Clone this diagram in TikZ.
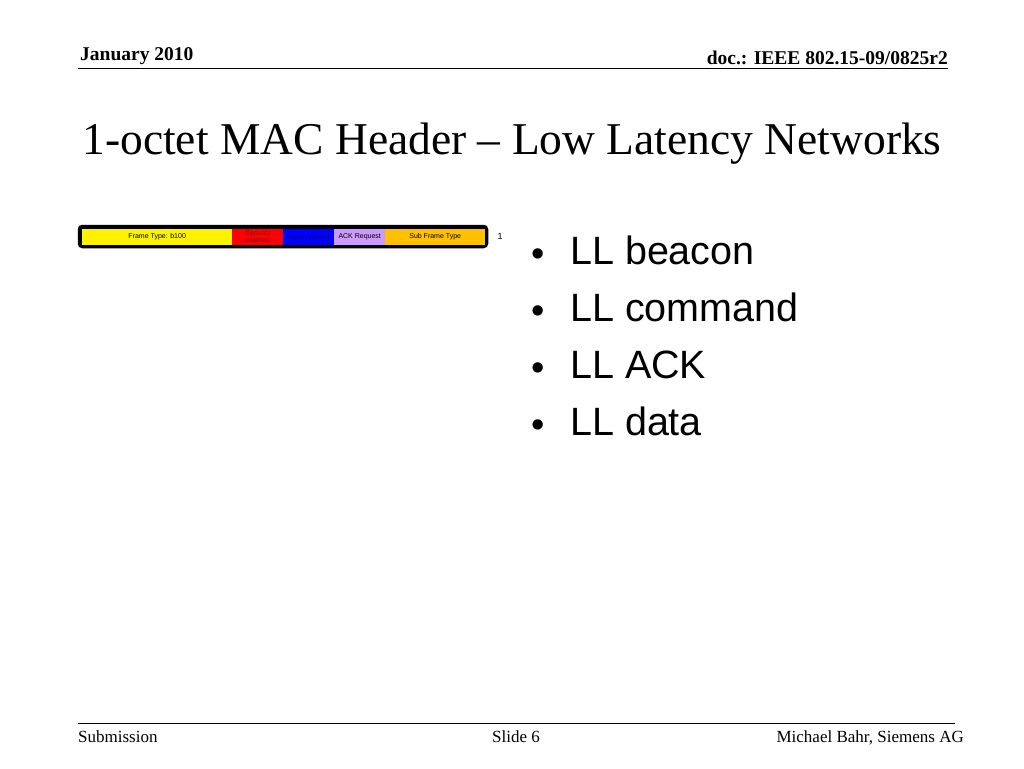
\documentclass[tikz,border=0pt]{standalone}
\usepackage{fontspec}
\setmainfont{Liberation Serif}
\newfontfamily\arialf{Liberation Sans}
\begin{document}
\begin{tikzpicture}[x=1pt,y=-1pt,
  cell/.style={draw=none,inner sep=0pt,minimum height=16pt,anchor=west,font=\arialf\fontsize{7}{7}\selectfont},
  hdr/.style={font=\bfseries\fontsize{19.5}{19.5}\selectfont,inner sep=0pt},
  ftr/.style={font=\fontsize{17}{17}\selectfont,inner sep=0pt},
  bul/.style={font=\arialf\fontsize{39.5}{39.5}\selectfont,inner sep=0pt,anchor=base west},
  dot/.style={font=\arialf\fontsize{38}{38}\selectfont,inner sep=0pt,anchor=base west}]
\useasboundingbox[fill=white] (0,0) rectangle (1024,768);
% header
\node[hdr,anchor=base west] (date) at (80,60) {January 2010};
\node[hdr,anchor=base east] (doc) at (948,64) {doc.: IEEE 802.15-09/0825r2};
\draw[line width=1.5pt] (78,68.5) coordinate (hl) -- (948,68.5) coordinate (hr);
% title
\node[font=\fontsize{45.5}{45.5}\selectfont,inner sep=0pt,anchor=base] (title) at (512,154) {1-octet MAC Header -- Low Latency Networks};
% bar
\draw[line width=3.5pt,rounded corners=3pt,fill=black] (79.5,226.5) rectangle (486.5,246.5);
\node[cell,fill=yellow,minimum width=150pt] (ft) at (82,236.5) {Frame Type: b100};
\node[cell,fill=red,minimum width=51pt,align=center,font=\arialf\fontsize{7}{7.5}\selectfont,text={rgb,255:red,128;green,0;blue,0}] (se) at (232,236.5) {Security\\enabled};
\node[cell,fill=blue,minimum width=51pt,text={rgb,255:red,0;green,0;blue,110}] (fv) at (283,236.5) {Frame Version};
\node[cell,fill={rgb,255:red,204;green,153;blue,255},minimum width=51pt] (ack) at (334,236.5) {ACK Request};
\node[cell,fill={rgb,255:red,255;green,192;blue,0},minimum width=100pt] (sft) at (385,236.5) {Sub Frame Type};
\node[font=\arialf\fontsize{9}{9}\selectfont,inner sep=0pt] (one) at (500,236) {1};
% bullets
\foreach \t/\y [count=\i] in {LL beacon/264, LL command/321, LL ACK/378, LL data/435}{
  \node[dot] (d\i) at (531,\y+2) {\textbullet};
  \node[bul] (b\i) at (570,\y) {\t};
}
% footer
\draw[line width=1.2pt] (78,723.5) coordinate (fl) -- (955,723.5) coordinate (fr);
\node[ftr,anchor=base west] (sub) at (78,742) {Submission};
\node[ftr,anchor=base] (slide) at (516,742) {Slide 6};
\node[ftr,anchor=base east] (auth) at (964,742) {Michael Bahr, Siemens AG};
\end{tikzpicture}
\end{document}
